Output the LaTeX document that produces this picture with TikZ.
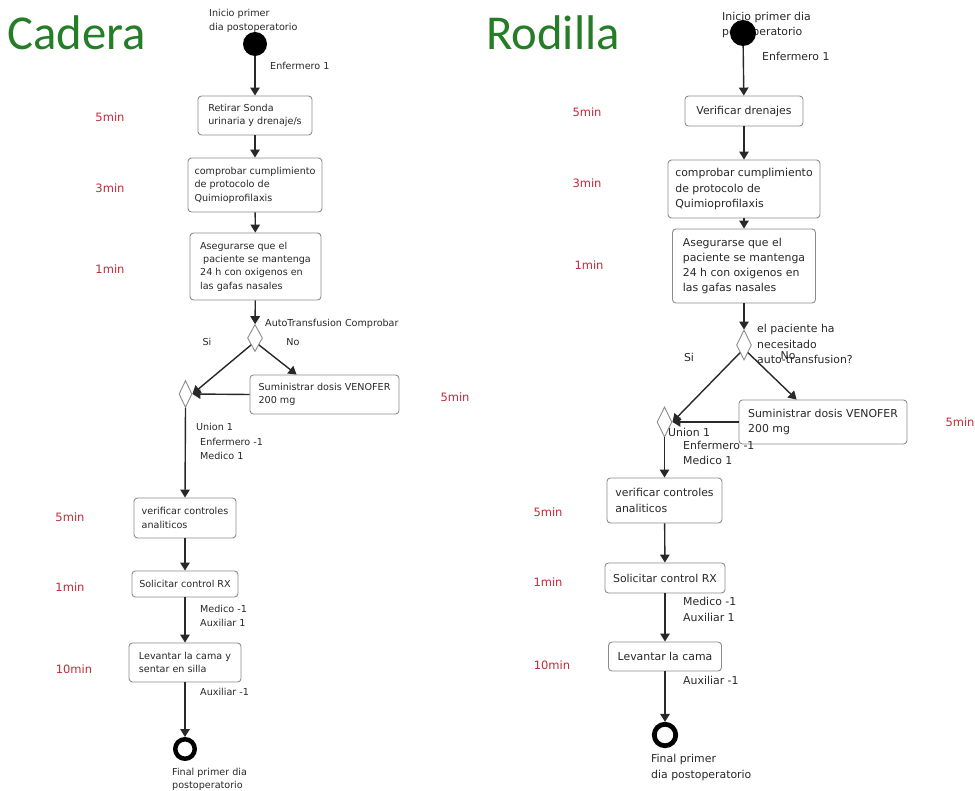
\documentclass[tikz,border=0pt]{standalone}
\usepackage{fontspec}
\usetikzlibrary{arrows.meta,shapes.geometric,calc}
\newfontfamily\diagfont{DejaVu Sans}
\newfontfamily\titlefont{Carlito}
\definecolor{titlegreen}{RGB}{38,125,40}
\definecolor{timered}{RGB}{196,40,56}
\definecolor{boxgray}{RGB}{140,140,140}
\definecolor{inkgray}{RGB}{40,40,40}

\begin{document}
\begin{tikzpicture}[x=1pt,y=-1pt,
  lfont/.style={font=\diagfont\fontsize{9.6}{13.4}\selectfont},
  rfont/.style={font=\diagfont\fontsize{10.9}{15.2}\selectfont},
  activity/.style={draw=boxgray, line width=0.9pt, rounded corners=3.5pt, fill=white,
    inner sep=0pt, align=left, text=inkgray},
  decision/.style={shape=diamond, draw=boxgray, fill=white, line width=0.9pt, inner sep=0pt},
  startdot/.style={circle, fill=black, inner sep=0pt},
  enddot/.style={circle, draw=black, fill=white, inner sep=0pt},
  flow/.style={draw=inkgray, line width=1.4pt, -{Triangle[width=9.5pt,length=8pt]}},
  lbl/.style={inner sep=0pt, text=inkgray, align=left},
  timelbl/.style={inner sep=0pt, text=timered, font=\diagfont\fontsize{11.5}{13}\selectfont},
  title/.style={inner sep=0pt, text=titlegreen, font=\titlefont\fontsize{48.7}{52}\selectfont, anchor=base west},
]
\useasboundingbox (0,0) rectangle (975,791);

% ================= Cadera =================
\node[title] (tcad) at (7,50) {Cadera};
\begin{scope}[lfont]
  \node[lbl, anchor=west] (cinicio) at (209,21) {Inicio primer\\dia postoperatorio};
  \node[startdot, minimum size=24pt] (cstart) at (255,44) {};
  \node[lbl, anchor=west] (cenf) at (270,66) {Enfermero 1};

  \node[activity, minimum width=114pt, minimum height=39pt] (c1) at (255,115.5)
    {Retirar Sonda\\urinaria y drenaje/s};
  \node[activity, minimum width=134pt, minimum height=54pt] (c2) at (255,185)
    {comprobar cumplimiento\\de protocolo de\\Quimioprofilaxis};
  \node[activity, minimum width=131pt, minimum height=67pt] (c3) at (255.5,266.5)
    {Asegurarse que el\\\hspace*{3pt}paciente se mantenga\\24 h con oxigenos en\\las gafas nasales};

  \node[decision, minimum width=15pt, minimum height=27pt] (cdec) at (255,338) {};
  \node[lbl, anchor=west] (cdectxt) at (265,324) {AutoTransfusion Comprobar};
  \node[lbl] (csi) at (207,342) {Si};
  \node[lbl] (cno) at (293,342) {No};

  \node[activity, minimum width=149pt, minimum height=39pt] (cven) at (324.5,394.5)
    {Suministrar dosis VENOFER\\200 mg};
  \node[decision, minimum width=13pt, minimum height=27pt] (cmerge) at (185.5,394) {};
  \node[lbl, anchor=west] (cunion) at (196,427) {Union 1};
  \node[lbl, anchor=west] (cres1) at (200,449) {Enfermero -1\\Medico 1};

  \node[activity, minimum width=102pt, minimum height=40pt] (c4) at (185,518)
    {verificar controles\\analiticos};
  \node[activity, minimum width=106pt, minimum height=26pt] (c5) at (185,584)
    {Solicitar control RX};
  \node[lbl, anchor=west] (cres2) at (200,616) {Medico -1\\Auxiliar 1};
  \node[activity, minimum width=112pt, minimum height=39pt] (c6) at (185,662.5)
    {Levantar la cama y\\sentar en silla};
  \node[lbl, anchor=west] (cres3) at (200,692) {Auxiliar -1};

  \node[enddot, line width=4.5pt, minimum size=19.5pt] (cend) at (185,749) {};
  \node[lbl, anchor=west] (cfinal) at (172,779.5) {Final primer dia\\postoperatorio};
\end{scope}

\node[timelbl] (ct1) at (110,117) {5min};
\node[timelbl] (ct2) at (110,188) {3min};
\node[timelbl] (ct3) at (110,269) {1min};
\node[timelbl] (ct4) at (455,397) {5min};
\node[timelbl] (ct5) at (70,517) {5min};
\node[timelbl] (ct6) at (70,587) {1min};
\node[timelbl] (ct7) at (74,669) {10min};

\coordinate (cvenin) at ($(cven.north west)+(47,0)$);
\draw[flow] (cstart) -- (c1);
\draw[flow] (c1) -- (c2);
\draw[flow] (c2) -- (c3);
\draw[flow] (c3) -- (cdec);
\draw[flow] (cdec.south west) -- (cmerge.east);
\draw[flow] (cdec.south east) -- (cvenin);
\draw[flow] (cven.west) -- (cmerge.east);
\draw[flow] (cmerge.south) -- (c4.north);
\draw[flow] (c4) -- (c5);
\draw[flow] (c5) -- (c6);
\draw[flow] (c6) -- (cend);

% ================= Rodilla =================
\node[title] (trod) at (486,50) {Rodilla};
\begin{scope}[rfont]
  \node[lbl, anchor=west] (rinicio) at (722,25) {Inicio primer dia\\postoperatorio};
  \node[startdot, minimum size=26pt] (rstart) at (743,33) {};
  \node[lbl, anchor=west] (renf) at (762,56) {Enfermero 1};

  \node[activity, minimum width=118pt, minimum height=30pt] (r1) at (744,111)
    {Verificar drenajes};
  \node[activity, minimum width=152pt, minimum height=58pt] (r2) at (744,189)
    {comprobar cumplimiento\\de protocolo de\\Quimioprofilaxis};
  \node[activity, minimum width=143pt, minimum height=74pt] (r3) at (744,266)
    {Asegurarse que el\\paciente se mantenga\\24 h con oxigenos en\\las gafas nasales};

  \node[decision, minimum width=15pt, minimum height=30pt] (rdec) at (744,345) {};
  \node[lbl, anchor=west] (rdectxt) at (757,344) {el paciente ha\\necesitado\\auto-transfusion?};
  \node[lbl] (rsi) at (689,357) {Si};
  \node[lbl] (rno) at (788,356) {No};

  \node[activity, minimum width=168pt, minimum height=44pt] (rven) at (823,422)
    {Suministrar dosis VENOFER\\200 mg};
  \node[decision, minimum width=15pt, minimum height=30pt] (rmerge) at (664.5,422) {};
  \node[lbl, anchor=west] (runion) at (668,432) {Union 1};
  \node[lbl, anchor=west] (rres1) at (683,453) {Enfermero -1\\Medico 1};

  \node[activity, minimum width=115pt, minimum height=45pt] (r4) at (664.5,500.5)
    {verificar controles\\analiticos};
  \node[activity, minimum width=120pt, minimum height=30pt] (r5) at (665,578)
    {Solicitar control RX};
  \node[lbl, anchor=west] (rres2) at (683,609.5) {Medico -1\\Auxiliar 1};
  \node[activity, minimum width=113pt, minimum height=29pt] (r6) at (665,656.5)
    {Levantar la cama};
  \node[lbl, anchor=west] (rres3) at (683,680) {Auxiliar -1};

  \node[enddot, line width=4.8pt, minimum size=21.5pt] (rend) at (665,735) {};
  \node[lbl, anchor=west] (rfinal) at (651,767.5) {Final primer\\dia postoperatorio};
\end{scope}

\node[timelbl] (rt1) at (587,112) {5min};
\node[timelbl] (rt2) at (587,183) {3min};
\node[timelbl] (rt3) at (589,265) {1min};
\node[timelbl] (rt4) at (960,422) {5min};
\node[timelbl] (rt5) at (548,512) {5min};
\node[timelbl] (rt6) at (548,582) {1min};
\node[timelbl] (rt7) at (552,665) {10min};

\coordinate (rvenin) at ($(rven.north west)+(58,0)$);
\draw[flow] (rstart) -- (r1);
\draw[flow] (r1) -- (r2);
\draw[flow] (r2) -- (r3);
\draw[flow] (r3) -- (rdec);
\draw[flow] (rdec.south west) -- (rmerge.east);
\draw[flow] (rdec.south east) -- (rvenin);
\draw[flow] (rven.west) -- (rmerge.east);
\draw[flow] (rmerge.south) -- (r4.north);
\draw[flow] (r4) -- (r5);
\draw[flow] (r5) -- (r6);
\draw[flow] (r6) -- (rend);
\end{tikzpicture}
\end{document}
